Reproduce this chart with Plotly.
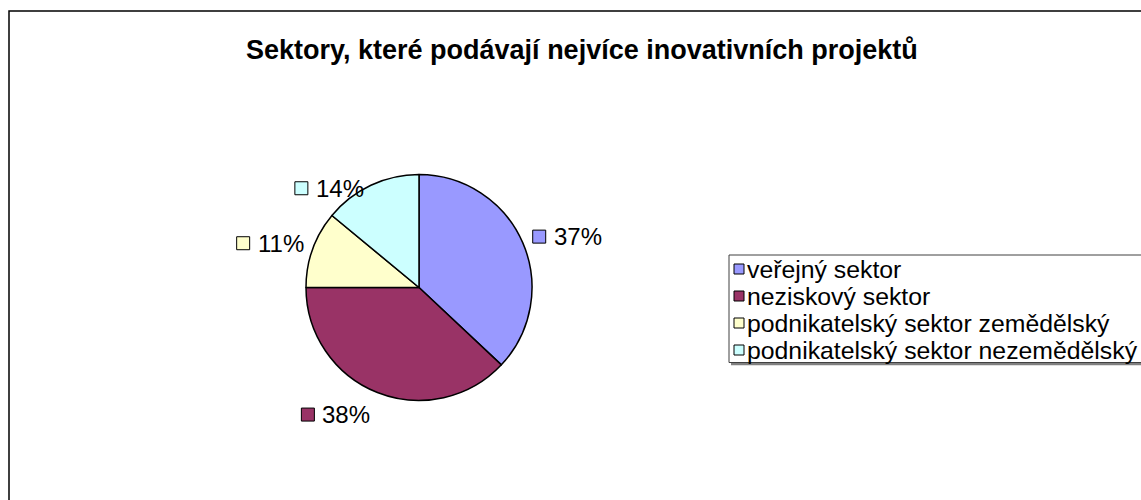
import math
import plotly.graph_objects as go

# ---- data ----
categories = ["veřejný sektor", "neziskový sektor",
              "podnikatelský sektor zemědělský", "podnikatelský sektor nezemědělský"]
shares = [37, 38, 11, 14]
colors = ["#9999FF", "#993366", "#FFFFCC", "#CCFFFF"]
title_text = "Sektory, které podávají nejvíce inovativních projektů"

# ---- layout constants (pixels) ----
W, H = 1141, 500
CX, CY, R = 419, 287.5, 113
FONT = "Liberation Sans, Arial, sans-serif"
LABEL_SIZE = 24
LEG_SIZE = 24.8


def px(x):
    return x / W


def py(y):
    return 1 - y / H


ARIAL_W = {"0": .556, "1": .556, "2": .556, "3": .556, "4": .556, "5": .556,
           "6": .556, "7": .556, "8": .556, "9": .556, "%": .889}


def text_w(s, size):
    return sum(ARIAL_W.get(c, .556) for c in s) * size


fig = go.Figure()
fig.add_trace(go.Pie(
    labels=categories, values=shares, sort=False, direction="clockwise", rotation=0,
    marker=dict(colors=colors, line=dict(color="black", width=1.5)),
    textinfo="none", showlegend=False, hoverinfo="label+percent",
    domain=dict(x=[px(CX - R), px(CX + R)], y=[py(CY + R), py(CY - R)]),
))

shapes = []
annotations = []

# chart area border
shapes.append(dict(type="rect", xref="paper", yref="paper",
                   x0=px(9), x1=px(W + 20), y0=py(H + 20), y1=py(11),
                   line=dict(color="#000000", width=1.5), fillcolor="rgba(0,0,0,0)"))

# title
annotations.append(dict(text="<b>" + title_text + "</b>", x=px(581.5), y=py(50),
                        xref="paper", yref="paper", xanchor="center", yanchor="middle",
                        showarrow=False, font=dict(family=FONT, size=27, color="black")))

# data labels placed outside each slice (Excel style)
total = sum(shares)
cum = 0
SQ = 13
GAP = 6
for v, col in zip(shares, colors):
    mid = (cum + v / 2) / total * 2 * math.pi
    cum += v
    s, c = math.sin(mid), math.cos(mid)
    ex, ey = CX + R * s, CY - R * c
    txt = f"{v}%"
    bw = SQ + GAP + text_w(txt, LABEL_SIZE)
    if s >= 0:
        left = ex + 10
    else:
        left = ex - 9 - bw
    if c < -0.92:
        yc = ey + 22
    elif c > 0.85:
        yc = ey + 3
    else:
        yc = ey - 6
    shapes.append(dict(type="rect", xref="paper", yref="paper",
                       x0=px(left), x1=px(left + SQ), y0=py(yc + SQ / 2), y1=py(yc - SQ / 2),
                       line=dict(color="black", width=1), fillcolor=col))
    annotations.append(dict(text=txt, x=px(left + SQ + GAP), y=py(yc), xref="paper", yref="paper",
                            xanchor="left", yanchor="middle", showarrow=False,
                            font=dict(family=FONT, size=LABEL_SIZE, color="black")))

# legend box with shadow
shapes.append(dict(type="line", xref="paper", yref="paper",
                   x0=px(731), x1=px(W + 20), y0=py(364), y1=py(364),
                   line=dict(color="#808080", width=2.5)))
shapes.append(dict(type="rect", xref="paper", yref="paper",
                   x0=px(729), x1=px(W + 20), y0=py(362.5), y1=py(255),
                   line=dict(color="#404040", width=1), fillcolor="white"))

LSQ = 10
for i, (name, col) in enumerate(zip(categories, colors)):
    yc = 269 + 27 * i
    shapes.append(dict(type="rect", xref="paper", yref="paper",
                       x0=px(734), x1=px(734 + LSQ), y0=py(yc + LSQ / 2), y1=py(yc - LSQ / 2),
                       line=dict(color="black", width=1), fillcolor=col))
    annotations.append(dict(text=name, x=px(745), y=py(yc), xref="paper", yref="paper",
                            xanchor="left", yanchor="middle", showarrow=False,
                            font=dict(family=FONT, size=LEG_SIZE, color="black")))

fig.update_layout(
    width=W, height=H, margin=dict(l=0, r=0, t=0, b=0),
    paper_bgcolor="white", plot_bgcolor="white",
    shapes=shapes, annotations=annotations, showlegend=False,
)

fig.write_html("out.html", config={"displayModeBar": False},
               post_script="document.body.style.margin='0px';")
